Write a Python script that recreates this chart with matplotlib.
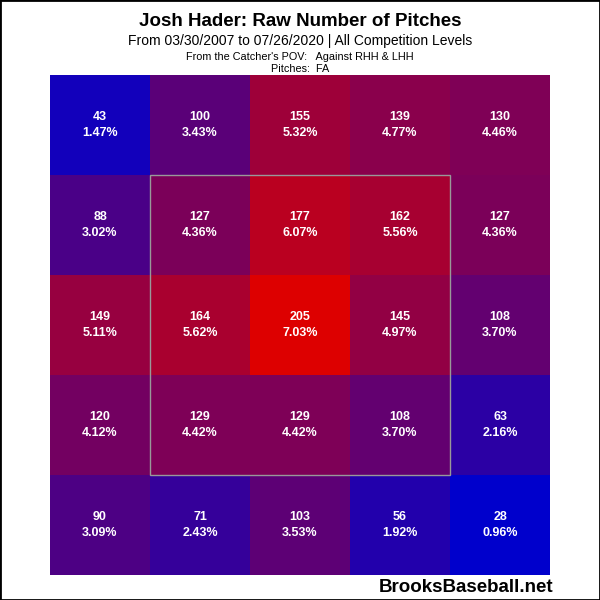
'''
Josh Hader: raw number of pitches by zone (catcher's POV).
'''
import numpy as np
import matplotlib
matplotlib.use('Agg')
import matplotlib.pyplot as plt
from matplotlib.colors import LinearSegmentedColormap
from matplotlib.patches import Rectangle

counts = [[43, 100, 155, 139, 130],
          [88, 127, 177, 162, 127],
          [149, 164, 205, 145, 108],
          [120, 129, 129, 108, 63],
          [90, 71, 103, 56, 28]]
pcts = [[1.47, 3.43, 5.32, 4.77, 4.46],
        [3.02, 4.36, 6.07, 5.56, 4.36],
        [5.11, 5.62, 7.03, 4.97, 3.70],
        [4.12, 4.42, 4.42, 3.70, 2.16],
        [3.09, 2.43, 3.53, 1.92, 0.96]]

title = 'Josh Hader: Raw Number of Pitches'
subtitle = 'From 03/30/2007 to 07/26/2020 | All Competition Levels'
line3 = "From the Catcher's POV:   Against RHH & LHH"
line4 = 'Pitches:  FA'

counts = np.array(counts)
cmap = LinearSegmentedColormap.from_list('br', ['#0000cc', '#dd0000'])

plt.rcParams['font.family'] = ['Liberation Sans', 'DejaVu Sans']
fig = plt.figure(figsize=(6, 6), dpi=100)
ax = fig.add_axes([50/600, 25/600, 500/600, 500/600])
ax.imshow(counts, cmap=cmap, vmin=counts.min(), vmax=counts.max(),
          extent=(0, 5, 5, 0), aspect='auto', interpolation='nearest')

for r in range(5):
    for c in range(5):
        ax.text(c + 0.5, r + 0.5, '%d\n%.2f%%' % (counts[r][c], pcts[r][c]),
                ha='center', va='center', color='white', fontsize=9,
                fontweight='bold', linespacing=1.45)

# strike zone
ax.add_patch(Rectangle((1, 1), 3, 3, fill=False, edgecolor='#999999', lw=1))
ax.set_xlim(0, 5)
ax.set_ylim(5, 0)
ax.axis('off')

fig.text(0.5, 1 - 21/600, title, ha='center', va='center', fontsize=13.5, fontweight='bold')
fig.text(0.5, 1 - 41/600, subtitle, ha='center', va='center', fontsize=10)
fig.text(0.5, 1 - 57/600, line3, ha='center', va='center', fontsize=7.8)
fig.text(0.5, 1 - 69/600, line4, ha='center', va='center', fontsize=7.8)
fig.text(553/600, 1 - 588/600, 'BrooksBaseball.net', ha='right', va='center',
         fontsize=13.5, fontweight='bold')

fig.patches.append(Rectangle((0, 0), 1, 1, transform=fig.transFigure, fill=False,
                             edgecolor='black', lw=2))

fig.savefig('out.png', dpi=100)
